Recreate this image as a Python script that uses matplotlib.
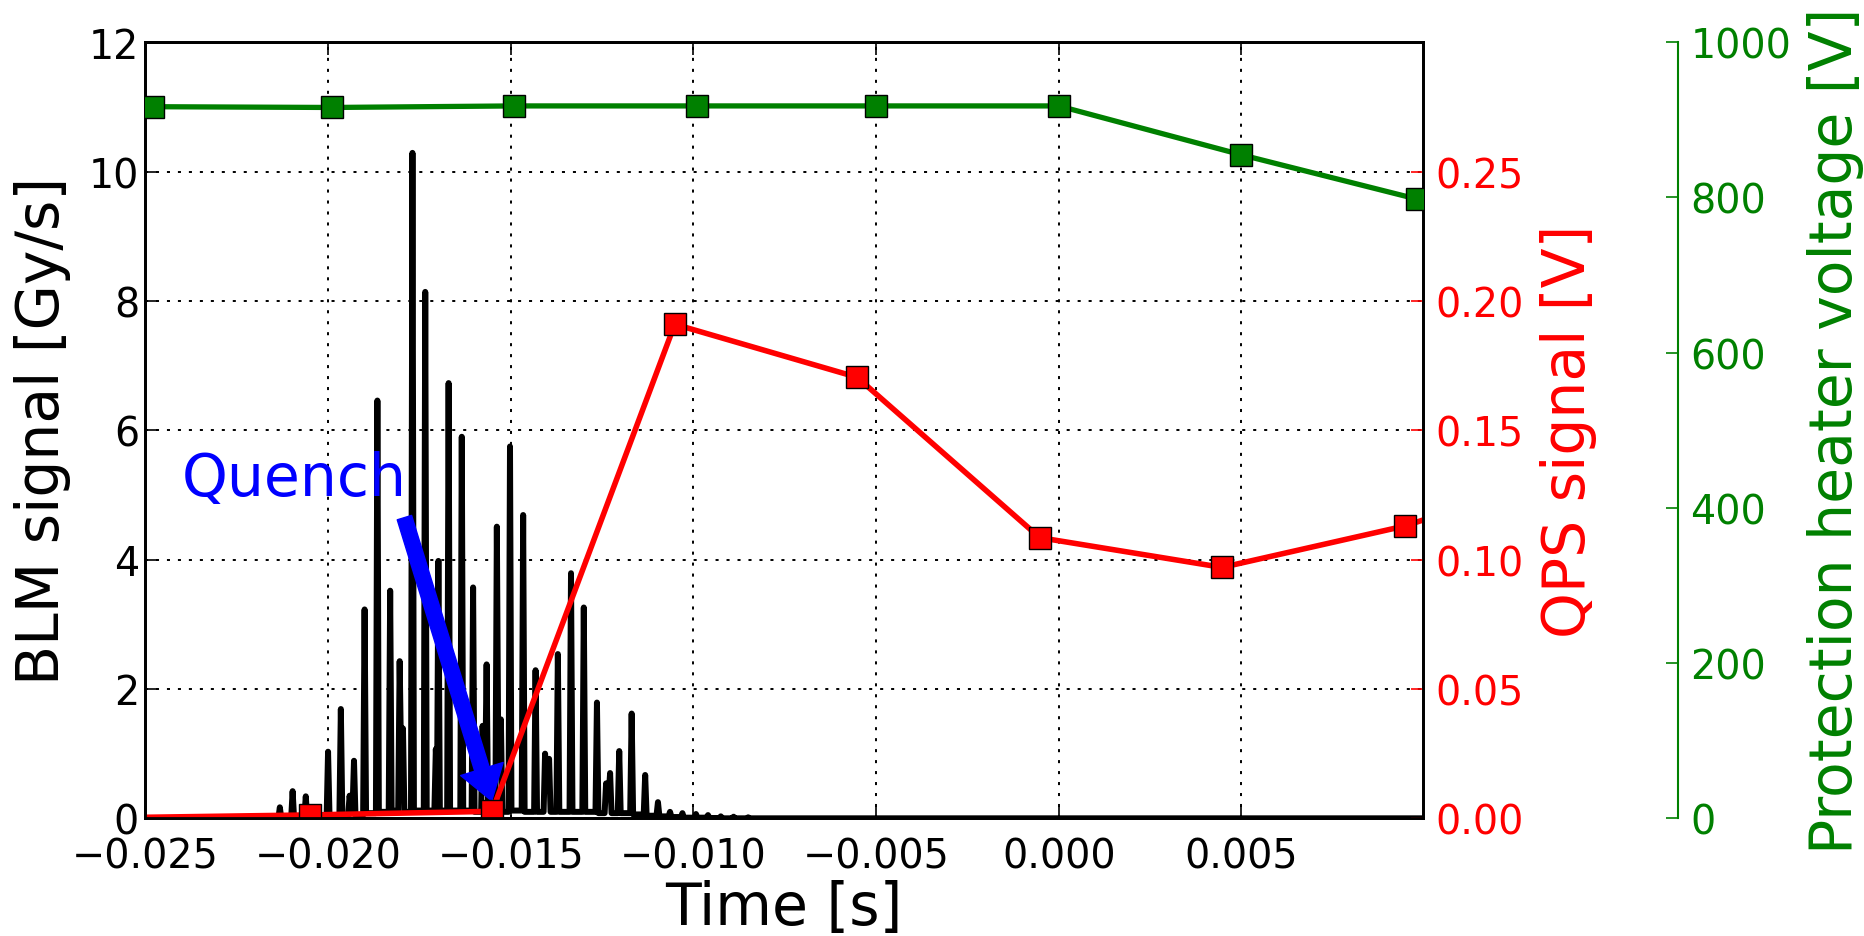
import matplotlib
matplotlib.use('Agg')
import matplotlib.pyplot as plt

plt.rcParams['font.family'] = ['DejaVu Sans']
plt.rcParams['lines.scale_dashes'] = False

# ---------------- data ----------------
# BLM signal: spike peaks (time [s], value [Gy/s]) and trough levels between them
blm_peak_t = [-0.02132, -0.02097, -0.02061, -0.02000, -0.01965, -0.01941, -0.01929,
              -0.01900, -0.01865, -0.01830, -0.01804, -0.01795, -0.01769, -0.01734,
              -0.01705, -0.01698, -0.01670, -0.01634, -0.01603, -0.01577, -0.01566,
              -0.01538, -0.01527, -0.01502, -0.01466, -0.01432, -0.01406, -0.01395,
              -0.01371, -0.01335, -0.01300, -0.01264, -0.01239, -0.01228, -0.01203,
              -0.01169, -0.01132, -0.01097, -0.01064, -0.01030, -0.00993, -0.00960,
              -0.00925, -0.00890, -0.00850]
blm_peak_v = [0.17, 0.42, 0.34, 1.03, 1.69, 0.35, 0.89, 3.23, 6.46, 3.52, 2.43, 1.39,
              10.29, 8.14, 1.07, 3.98, 6.73, 5.90, 3.57, 1.43, 2.38, 4.51, 1.53, 5.75,
              4.69, 2.29, 1.00, 0.92, 2.54, 3.79, 3.26, 1.79, 0.54, 0.70, 1.04, 1.62,
              0.67, 0.25, 0.10, 0.08, 0.066, 0.05, 0.03, 0.025, 0.015]
blm_trough_v = [0.0, 0.0, 0.0, 0.03, 0.05, 0.15, 0.05, 0.08, 0.10, 0.12, 0.9, 0.10,
                0.12, 0.12, 0.6, 0.12, 0.12, 0.12, 0.10, 0.6, 0.12, 0.9, 0.10, 0.12,
                0.10, 0.10, 0.6, 0.10, 0.10, 0.10, 0.10, 0.08, 0.35, 0.08, 0.08, 0.06,
                0.04, 0.03, 0.02, 0.01, 0.01, 0.005, 0.0, 0.0]
blm_start_t, blm_end_t = -0.0250, 0.0100
blm_sample = 4e-5  # BLM sampling interval [s]

# QPS signal [V]
qps_t = [-0.0255, -0.02050, -0.01551, -0.01051, -0.00552, -0.00052, 0.00447, 0.00947, 0.01446]
qps_v = [0.0003, 0.0013, 0.0027, 0.191, 0.1705, 0.1085, 0.097, 0.113, 0.136]

# Protection heater voltage [V]
ph_t = [-0.0248, -0.0199, -0.0149, -0.0099, -0.0050, 0.0000, 0.0050, 0.0098]
ph_v = [917, 916, 918, 918, 918, 918, 855, 798]

x_ticks = [-0.025, -0.020, -0.015, -0.010, -0.005, 0.000, 0.005]
blm_ticks = [0, 2, 4, 6, 8, 10, 12]
qps_ticks = [0.00, 0.05, 0.10, 0.15, 0.20, 0.25]
ph_ticks = [0, 200, 400, 600, 800, 1000]

# quench annotation (arrow tail, arrow tip, text position) in data coords
quench_text_xy = (-0.0240, 5.0)
quench_tail = (-0.01791, 4.65)
quench_tip = (-0.01552, 0.27)

# ---------------- build BLM trace from peaks ----------------
trace_t = [blm_start_t]
trace_v = [0.0]
n = len(blm_peak_t)
for i in range(n):
    t, v = blm_peak_t[i], blm_peak_v[i]
    left = 0.0 if i == 0 else blm_trough_v[i - 1]
    right = 0.0 if i == n - 1 else blm_trough_v[i]
    gl = blm_sample if i == 0 else min(blm_sample, (t - blm_peak_t[i - 1]) / 2)
    gr = blm_sample if i == n - 1 else min(blm_sample, (blm_peak_t[i + 1] - t) / 2)
    trace_t += [t - gl, t, t + gr]
    trace_v += [left, v, right]
trace_t.append(blm_end_t)
trace_v.append(0.0)

# ---------------- figure ----------------
W, H = 1864, 937
fig = plt.figure(figsize=(W / 100, H / 100), dpi=100)
ax = fig.add_axes([0.0780, 0.1256, 0.6852, 0.8282])

GREEN = (0, 0.5, 0)
LABEL_FS = 42
TICK_FS = 28.5

ax.plot(trace_t, trace_v, color='k', lw=4.3, solid_joinstyle='round')
ax.set_xlim(-0.025, 0.00996)
ax.set_ylim(0, 12)
ax.set_xticks(x_ticks)
ax.set_xticklabels([f"{x:.3f}".replace('-', '\u2212') for x in x_ticks])
ax.set_yticks(blm_ticks)
ax.set_yticklabels([str(v) for v in blm_ticks])
ax.grid(True, color='k', linestyle=(0, (2.2, 5.7)), linewidth=1.4)
ax.tick_params(axis='both', direction='in', length=9, width=1.2, labelsize=TICK_FS)
ax.tick_params(axis='x', pad=12.8, top=True)
ax.tick_params(axis='y', pad=4.6)
for s in ax.spines.values():
    s.set_linewidth(2)
ax.set_xlabel('Time [s]', fontsize=LABEL_FS)
ax.xaxis.set_label_coords(0.5, -0.078)
ax.set_ylabel('BLM signal [Gy/s]', fontsize=LABEL_FS)
ax.yaxis.set_label_coords(-0.0582, 0.5)

ax.annotate('', xy=quench_tip, xytext=quench_tail,
            arrowprops=dict(facecolor='blue', edgecolor='blue', width=10.8,
                            headwidth=32, headlength=24, shrink=0.0))
ax.text(quench_text_xy[0], quench_text_xy[1], 'Quench', color='blue',
        fontsize=LABEL_FS, ha='left', va='baseline')

# QPS axis
ax2 = ax.twinx()
ax2.plot(qps_t, qps_v, color='r', lw=4, marker='s', ms=16.5, mfc='r', mec='k', mew=1)
ax2.set_ylim(0, 0.30)
ax2.set_xlim(-0.025, 0.00996)
ax2.set_yticks(qps_ticks)
ax2.set_yticklabels([f"{v:.2f}" for v in qps_ticks])
ax2.tick_params(axis='y', direction='in', length=9, width=1.2, colors='r',
                labelsize=TICK_FS, pad=9)
for s in ax2.spines.values():
    s.set_linewidth(2)
ax2.set_ylabel('QPS signal [V]', color='r', fontsize=LABEL_FS)
ax2.yaxis.set_label_coords(1.092, 0.5)

# Protection heater axis
ax3 = ax.twinx()
ax3.spines['right'].set_position(('axes', 1.2))
for k in ['left', 'top', 'bottom']:
    ax3.spines[k].set_visible(False)
ax3.spines['right'].set_color(GREEN)
ax3.spines['right'].set_linewidth(1.5)
ax3.plot(ph_t, ph_v, color=GREEN, lw=3.8, marker='s', ms=16.5, mfc=GREEN, mec='k', mew=1)
ax3.set_ylim(0, 1000)
ax3.set_xlim(-0.025, 0.00996)
ax3.set_yticks(ph_ticks)
ax3.set_yticklabels([str(v) for v in ph_ticks])
ax3.tick_params(axis='y', direction='in', length=9, width=1.2, colors=GREEN,
                labelsize=TICK_FS, pad=9)
ax3.set_ylabel('Protection heater voltage [V]', color=GREEN, fontsize=LABEL_FS)
ax3.yaxis.set_label_coords(1.3007, 0.5)

fig.savefig('out.png', dpi=100)
